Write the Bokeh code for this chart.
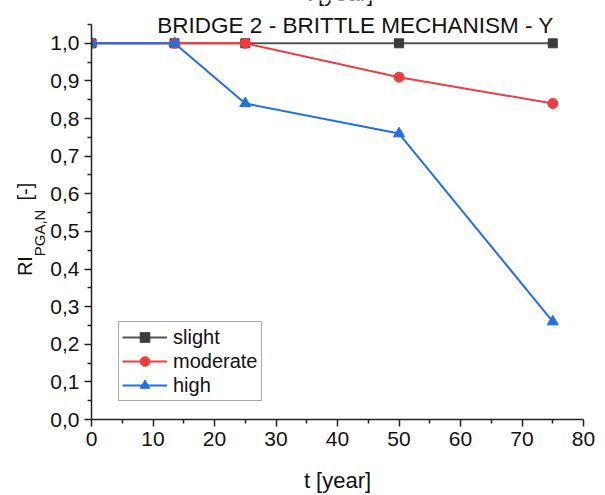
from bokeh.plotting import figure
from bokeh.models import (FixedTicker, CustomJSTickFormatter, Label, Legend, LegendItem, Range1d, LinearAxis)
from bokeh.embed import file_html
from bokeh.resources import INLINE

# ---- data ----
t_years = [0, 13.5, 25, 50, 75]
slight = [1.0, 1.0, 1.0, 1.0, 1.0]
moderate = [1.0, 1.0, 1.0, 0.91, 0.84]
high = [1.0, 1.0, 0.84, 0.76, 0.26]

x_ticks = [0, 10, 20, 30, 40, 50, 60, 70, 80]
x_labels = ["0", "10", "20", "30", "40", "50", "60", "70", "80"]
y_ticks = [0.0, 0.1, 0.2, 0.3, 0.4, 0.5, 0.6, 0.7, 0.8, 0.9, 1.0]
y_labels = ["0,0", "0,1", "0,2", "0,3", "0,4", "0,5", "0,6", "0,7", "0,8", "0,9", "1,0"]

title_text = "BRIDGE 2 - BRITTLE MECHANISM - Y"
x_title = "t [year]"
y_title_main = "RI"
y_title_sub = "PGA,N"
y_title_unit = "[-]"

FONT = "Liberation Sans"
NB = "\u00a0"
C_SLIGHT_L, C_SLIGHT_M = "#555555", "#3c3c3c"
C_MOD = "#f03c3c"
C_HIGH = "#1f6fe5"

# frame reaches the top of the canvas; the axes are bounded to 0..80 and 0..1.05
p = figure(width=605, height=495, output_backend="svg", toolbar_location=None,
           x_range=Range1d(0, 80), y_range=Range1d(0, 421 / 378),
           min_border_left=91, min_border_right=22, min_border_top=0, min_border_bottom=74)
p.outline_line_color = None
p.xgrid.visible = False
p.ygrid.visible = False
p.background_fill_color = "white"
p.border_fill_color = "white"

fmt_js = """
let best = 0, bd = 1e9;
for (let i = 0; i < tvals.length; i++) { const d = Math.abs(tvals[i] - tick); if (d < bd) { bd = d; best = i; } }
return tlabels[best];
"""
p.xaxis.ticker = FixedTicker(ticks=x_ticks, minor_ticks=[v + 5 for v in x_ticks[:-1]])
p.xaxis.formatter = CustomJSTickFormatter(args=dict(tvals=x_ticks, tlabels=x_labels), code=fmt_js)
p.yaxis.ticker = FixedTicker(ticks=y_ticks, minor_ticks=[round(v + 0.05, 2) for v in y_ticks])
p.yaxis.formatter = CustomJSTickFormatter(args=dict(tvals=y_ticks, tlabels=y_labels), code=fmt_js)
p.xaxis.bounds = (0, 80)
p.yaxis.bounds = (0, 1.05)

for ax in (p.xaxis[0], p.yaxis[0]):
    ax.axis_line_color = "#222222"
    ax.axis_line_width = 1.5
    ax.major_tick_line_color = "#222222"
    ax.minor_tick_line_color = "#222222"
    ax.major_tick_line_width = 1.5
    ax.minor_tick_line_width = 1.5
    ax.major_tick_out = 7
    ax.major_tick_in = 0
    ax.minor_tick_out = 4
    ax.minor_tick_in = 0
    ax.major_label_text_font = FONT
    ax.major_label_text_font_size = "21px"
    ax.major_label_text_color = "#111111"
    ax.major_label_standoff = 5

p.xaxis.axis_label = x_title
p.xaxis.axis_label_text_font = FONT
p.xaxis.axis_label_text_font_size = "22px"
p.xaxis.axis_label_text_font_style = "normal"
p.xaxis.axis_label_text_color = "#111111"
p.xaxis.axis_label_standoff = 19


def label_axis(text, size, standoff):
    a = LinearAxis(ticker=FixedTicker(ticks=[]), axis_line_color=None,
                   major_tick_out=0, major_tick_in=0, minor_tick_out=0, minor_tick_in=0,
                   major_label_standoff=0, axis_label=text, axis_label_text_font=FONT,
                   axis_label_text_font_size=size, axis_label_text_font_style="normal",
                   axis_label_text_color="#111111", axis_label_standoff=standoff)
    p.add_layout(a, "left")
    return a


# y-axis title: subscript column next to the tick labels, main text further out
label_axis(y_title_sub + NB * 11, "15px", 0)
label_axis(y_title_main + NB * 10 + y_title_unit + NB * 7, "20px", -8)

# series
r1l = p.line(t_years, slight, line_color=C_SLIGHT_L, line_width=2)
r1m = p.scatter(t_years, slight, marker="square", size=9, fill_color=C_SLIGHT_M, line_color=C_SLIGHT_M)
r2l = p.line(t_years, moderate, line_color=C_MOD, line_width=2)
r2m = p.scatter(t_years, moderate, marker="circle", size=10, fill_color=C_MOD, line_color=C_MOD)
r3l = p.line(t_years, high, line_color=C_HIGH, line_width=2)
r3m = p.scatter(t_years, high, marker="triangle", size=11, fill_color=C_HIGH, line_color=C_HIGH)

legend = Legend(items=[LegendItem(label="slight", renderers=[r1l, r1m]),
                       LegendItem(label="moderate", renderers=[r2l, r2m]),
                       LegendItem(label="high", renderers=[r3l, r3m])],
                location=(27, 18))
legend.label_text_font = FONT
legend.label_text_font_size = "20px"
legend.label_text_color = "#111111"
legend.glyph_width = 45
legend.glyph_height = 24
legend.label_height = 24
legend.label_standoff = 6
legend.spacing = 0
legend.padding = 3
legend.margin = 0
legend.border_line_color = "#555555"
legend.border_line_width = 1
legend.background_fill_alpha = 1
p.add_layout(legend, "center")

# title
p.add_layout(Label(x=264, y=394, x_units="screen", y_units="screen", text=title_text,
                   text_align="center", text_baseline="alphabetic", text_font=FONT,
                   text_font_size="22.5px", text_color="#111111"))
# cut-off label of the panel above
p.add_layout(Label(x=248, y=426, x_units="screen", y_units="screen", text=x_title,
                   text_align="center", text_baseline="alphabetic", text_font=FONT,
                   text_font_size="22px", text_color="#111111"))

open("out.html", "w").write(file_html(p, INLINE))
